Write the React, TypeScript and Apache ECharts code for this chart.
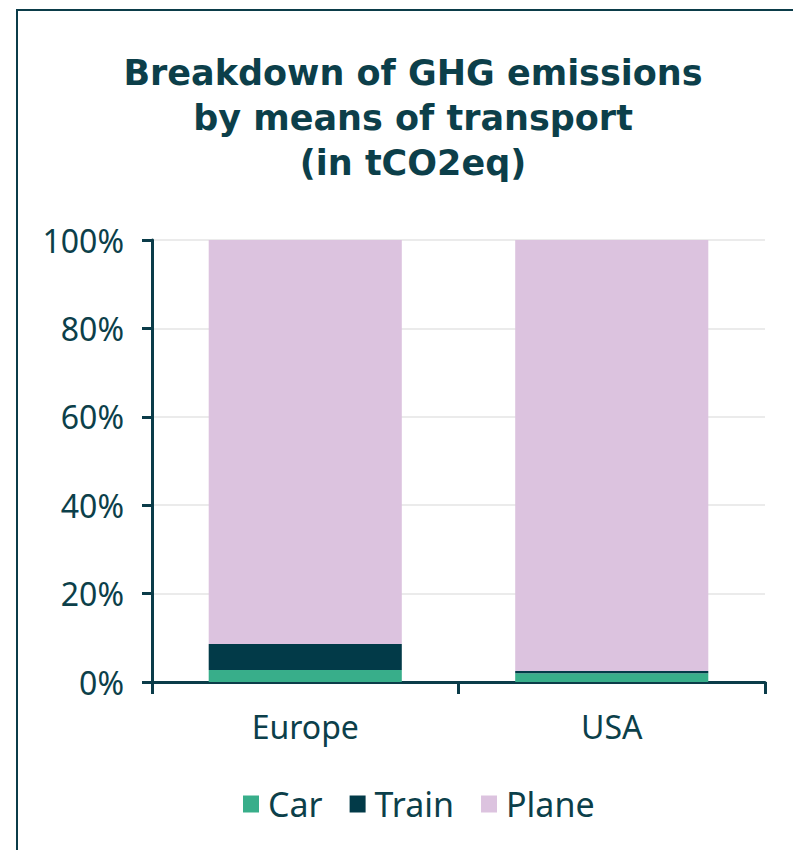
import React, { useEffect, useRef } from "react";
import * as echarts from "echarts";

const categories = ["Europe", "USA"];
const carValues = [2.7, 2.0];
const trainValues = [5.9, 0.5];
const planeValues = [91.4, 97.5];
const yTicks = [0, 20, 40, 60, 80, 100];

const TEXT = "#0C3F4A";
const FONT = "Noto Sans";

export default function App() {
  const ref = useRef<HTMLDivElement>(null);
  useEffect(() => {
    const chart = echarts.init(ref.current!, undefined, { renderer: "svg" });
    chart.setOption({
      animation: false,
      backgroundColor: "#ffffff",
      title: {
        text: "Breakdown of GHG emissions\nby means of transport\n(in tCO2eq)",
        left: 408,
        top: 45,
        textAlign: "center",
        textStyle: {
          fontFamily: "DejaVu Sans",
          fontWeight: "bold",
          fontSize: 35,
          lineHeight: 45,
          color: TEXT,
        },
      },
      legend: {
        left: 238,
        top: 782,
        itemWidth: 16,
        itemHeight: 17,
        itemGap: 27,
        icon: "rect",
        textStyle: { fontFamily: FONT, fontSize: 34, color: TEXT, padding: [0, 0, 0, 4] },
        data: ["Car", "Train", "Plane"],
      },
      grid: { left: 152, top: 240, right: 28, bottom: 168 },
      xAxis: {
        type: "category",
        data: categories,
        axisLine: { lineStyle: { color: "#0B3C49", width: 3 } },
        axisTick: { show: true, length: 12, lineStyle: { color: "#0B3C49", width: 3 } },
        axisLabel: { margin: 28, fontFamily: FONT, fontSize: 32, color: TEXT },
      },
      yAxis: {
        type: "value",
        min: 0,
        max: 100,
        interval: 20,
        axisLine: { show: true, lineStyle: { color: "#0B3C49", width: 3 } },
        axisTick: { show: true, length: 10, lineStyle: { color: "#0B3C49", width: 3 } },
        splitLine: { lineStyle: { color: "#EBEBEB", width: 2 } },
        axisLabel: {
          margin: 28,
          fontFamily: FONT,
          fontSize: 32,
          color: TEXT,
          formatter: (v: number) => (yTicks.includes(v) ? v + "%" : ""),
        },
      },
      series: [
        { name: "Car", type: "bar", stack: "t", data: carValues, barCategoryGap: "37%", itemStyle: { color: "#38AE8A" } },
        { name: "Train", type: "bar", stack: "t", data: trainValues, itemStyle: { color: "#023A48" } },
        { name: "Plane", type: "bar", stack: "t", data: planeValues, itemStyle: { color: "#DCC3DF" } },
      ],
      graphic: [
        {
          type: "rect",
          shape: { x: 17, y: 10, width: 800, height: 900 },
          style: { fill: "none", stroke: "#0B3C49", lineWidth: 2 },
          z: 100,
        },
      ],
    });
    return () => chart.dispose();
  }, []);
  return (
    <div
      ref={ref}
      style={{ position: "fixed", left: 0, top: 0, width: 793, height: 850 }}
    />
  );
}
